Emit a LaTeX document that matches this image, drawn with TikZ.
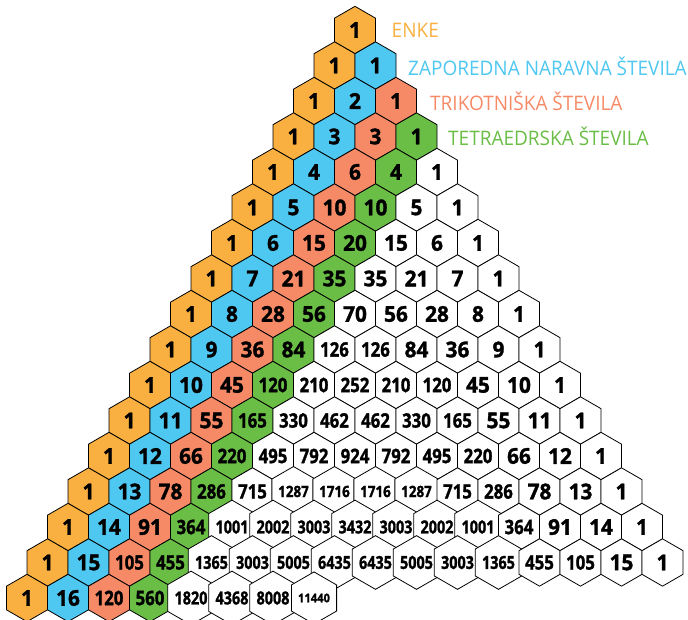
\documentclass[tikz,border=0pt]{standalone}
\usepackage{fontspec}
\usepackage{graphicx}
\setmainfont{Open Sans}
\newfontfamily\numfont{Open Sans}[FakeBold=1.5]
\newfontfamily\labfont{Open Sans}[FakeStretch=0.95]
\usetikzlibrary{shapes.geometric}
\definecolor{enke}{HTML}{F9B040}
\definecolor{narav}{HTML}{4EC7F1}
\definecolor{trik}{HTML}{F68A67}
\definecolor{tetra}{HTML}{6ABD45}
\newcommand\numbox[2]{\ifnum#1<100 \scalebox{1.04}[1.09]{#1}\else\ifnum#1<1000 \scalebox{0.84}[1.0]{#1}\else\ifnum#1<10000 \ifnum#2=13 \scalebox{0.67}[0.78]{#1}\else\scalebox{0.72}[0.9]{#1}\fi\else\scalebox{0.56}[0.6]{#1}\fi\fi\fi}
\tikzset{
  hexcell/.style={regular polygon, regular polygon sides=6, shape border rotate=30,
    minimum size=47.34pt, inner sep=0pt, outer sep=0pt, draw=black, line width=0.8pt,
    text=black, font=\numfont\bfseries\fontsize{20}{20}\selectfont},
  lab/.style={anchor=west, inner sep=0pt, font=\labfont\fontsize{20}{20}\selectfont}
}
\begin{document}
\begin{tikzpicture}[x=1pt,y=-1pt]
\useasboundingbox (0,0) rectangle (688,620);
\foreach \n/\vals in {0/{1},1/{1,1},2/{1,2,1},3/{1,3,3,1},4/{1,4,6,4,1},5/{1,5,10,10,5,1},
  6/{1,6,15,20,15,6,1},7/{1,7,21,35,35,21,7,1},8/{1,8,28,56,70,56,28,8,1},
  9/{1,9,36,84,126,126,84,36,9,1},10/{1,10,45,120,210,252,210,120,45,10,1},
  11/{1,11,55,165,330,462,462,330,165,55,11,1},12/{1,12,66,220,495,792,924,792,495,220,66,12,1},
  13/{1,13,78,286,715,1287,1716,1716,1287,715,286,78,13,1},
  14/{1,14,91,364,1001,2002,3003,3432,3003,2002,1001,364,91,14,1},
  15/{1,15,105,455,1365,3003,5005,6435,6435,5005,3003,1365,455,105,15,1},
  16/{1,16,120,560,1820,4368,8008,11440}}{
  \foreach \v [count=\k from 0] in \vals {
    \pgfmathsetmacro\xx{355+(\k-\n/2)*41}
    \pgfmathsetmacro\yy{30+\n*35.5}
    \ifcase\k\relax \def\cc{enke}\or \def\cc{narav}\or \def\cc{trik}\or \def\cc{tetra}\else \def\cc{white}\fi
    \node[hexcell, fill=\cc] (c\n-\k) at (\xx,\yy) {\numbox{\v}{\n}};
  }
}
\node[lab, text=enke] (l0) at (391.5,30) {ENKE};
\node[lab, text=narav] (l1) at (408,66) {ZAPOREDNA NARAVNA ŠTEVILA};
\node[lab, text=trik] (l2) at (430,101) {TRIKOTNIŠKA ŠTEVILA};
\node[lab, text=tetra] (l3) at (448,136) {TETRAEDRSKA ŠTEVILA};
\end{tikzpicture}
\end{document}
